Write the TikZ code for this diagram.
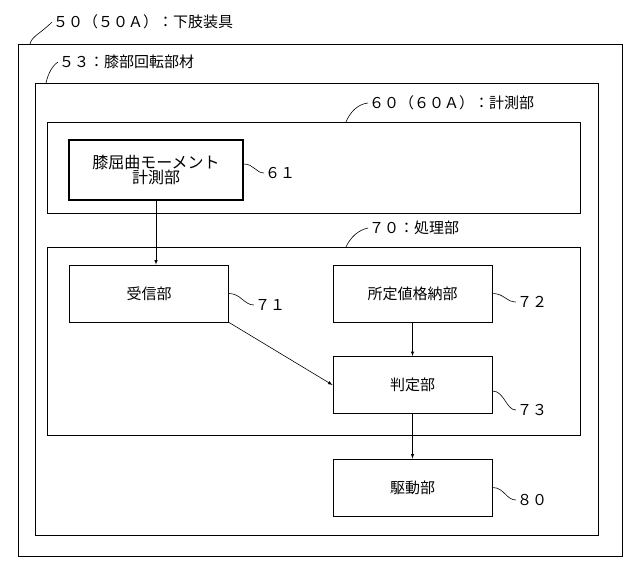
\documentclass[tikz,border=0pt]{standalone}
\usepackage{fontspec}
\newfontfamily\cjk{Noto Sans CJK JP}
\begin{document}
\begin{tikzpicture}[x=1pt,y=-1pt,font=\cjk\fontsize{15}{17}\selectfont,
  box/.style={draw,line width=0.8pt},
  blk/.style={draw,line width=0.8pt,minimum width=159pt,minimum height=57pt,inner sep=0pt},
  lead/.style={line width=0.6pt},
  arr/.style={-latex,line width=0.6pt},
  lab/.style={anchor=west,inner sep=1pt}]
\useasboundingbox (0,0) rectangle (640,576);
\draw[box] (18,44) rectangle (622,556);
\draw[box] (35,83) rectangle (598,535);
\draw[box] (47,122) rectangle (580,213);
\draw[box] (47,247) rectangle (580,435);
\node[blk,line width=1.6pt,minimum width=174pt,minimum height=60pt,align=center,font=\cjk\fontsize{16}{18}\selectfont] (n61) at (156,170) {膝屈曲モーメント\\[-3pt]計測部};
\node[blk] (n71) at (149,293.5) {受信部};
\node[blk] (n72) at (412.5,293.5) {所定値格納部};
\node[blk] (n73) at (412.5,385) {判定部};
\node[blk] (n80) at (412.5,487.5) {駆動部};
\node[lab] (l50) at (52,22) {５０（５０Ａ）：下肢装具};
\node[lab] (l53) at (58,62) {５３：膝部回転部材};
\node[lab] (l60) at (368,103) {６０（６０Ａ）：計測部};
\node[lab] (l70) at (368,228) {７０：処理部};
\node[lab] (l61) at (264,173) {６１};
\node[lab] (l71) at (254,305) {７１};
\node[lab] (l72) at (516,302) {７２};
\node[lab] (l73) at (516,410) {７３};
\node[lab] (l80) at (516,500) {８０};
\draw[lead] (30,44) .. controls (32,36) and (40,34) .. (l50.west);
\draw[lead] (46,83) .. controls (48,74) and (52,66) .. (l53.west);
\draw[lead] (346,122) .. controls (350,112) and (358,104) .. (l60.west);
\draw[lead] (346,247) .. controls (350,238) and (358,230) .. (l70.west);
\draw[lead] (n61.east) ++(0,-6) .. controls +(10,0) and +(-8,0) .. (l61.west);
\draw[lead] (n71.east) .. controls +(12,0) and +(-10,0) .. (l71.west);
\draw[lead] (n72.east) .. controls +(12,0) and +(-10,0) .. (l72.west);
\draw[lead] (n73.east) ++(0,6) .. controls +(12,0) and +(-10,0) .. (l73.west);
\draw[lead] (n80.east) .. controls +(12,0) and +(-10,0) .. (l80.west);
\draw[arr] (n61.south) -- (n61.south |- n71.north);
\draw[arr] (n71.south east) -- (n73.west);
\draw[arr] (n72) -- (n73);
\draw[arr] (n73) -- (n80);
\end{tikzpicture}
\end{document}
